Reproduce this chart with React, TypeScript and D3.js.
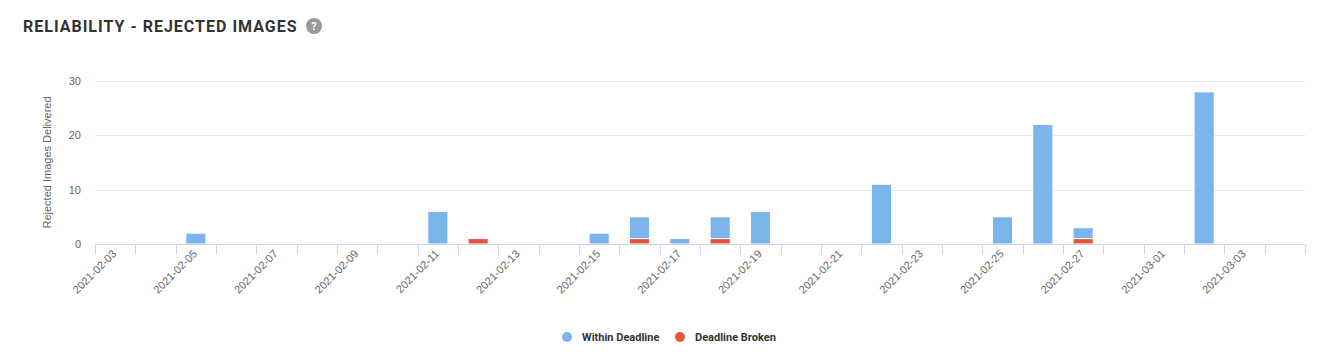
import React, { useRef, useEffect } from "react";
import * as d3 from "d3";

const dates = [
  "2021-02-03", "2021-02-04", "2021-02-05", "2021-02-06", "2021-02-07",
  "2021-02-08", "2021-02-09", "2021-02-10", "2021-02-11", "2021-02-12",
  "2021-02-13", "2021-02-14", "2021-02-15", "2021-02-16", "2021-02-17",
  "2021-02-18", "2021-02-19", "2021-02-20", "2021-02-21", "2021-02-22",
  "2021-02-23", "2021-02-24", "2021-02-25", "2021-02-26", "2021-02-27",
  "2021-02-28", "2021-03-01", "2021-03-02", "2021-03-03", "2021-03-04",
];
const withinDeadline = [
  0, 0, 2, 0, 0, 0, 0, 0, 6, 0,
  0, 0, 2, 4, 1, 4, 6, 0, 0, 11,
  0, 0, 5, 22, 2, 0, 0, 28, 0, 0,
];
const deadlineBroken = [
  0, 0, 0, 0, 0, 0, 0, 0, 0, 1,
  0, 0, 0, 1, 0, 1, 0, 0, 0, 0,
  0, 0, 0, 0, 1, 0, 0, 0, 0, 0,
];
const yTicks = [0, 10, 20, 30];
const seriesNames = ["Within Deadline", "Deadline Broken"];
const seriesColors = ["#7cb5ec", "#e4553b"];

export default function App() {
  const ref = useRef<SVGSVGElement | null>(null);

  useEffect(() => {
    const width = 1330;
    const height = 362;
    const margin = { top: 81, right: 25, bottom: 118, left: 95 };

    const svg = d3.select(ref.current);
    svg.selectAll("*").remove();
    svg.attr("width", width).attr("height", height);

    // title
    svg
      .append("text")
      .attr("x", 23)
      .attr("y", 32)
      .attr("font-family", "Roboto, sans-serif")
      .attr("font-weight", 700)
      .attr("font-size", 16)
      .attr("letter-spacing", 1)
      .attr("fill", "#333")
      .text("RELIABILITY - REJECTED IMAGES");

    svg.append("circle").attr("cx", 314).attr("cy", 26).attr("r", 8).attr("fill", "#999");
    svg
      .append("text")
      .attr("x", 314)
      .attr("y", 30)
      .attr("text-anchor", "middle")
      .attr("font-family", "Roboto, sans-serif")
      .attr("font-weight", 700)
      .attr("font-size", 11)
      .attr("fill", "#fff")
      .text("?");

    const x = d3
      .scaleBand()
      .domain(dates)
      .range([margin.left, width - margin.right])
      .padding(0);
    const step = x.step();

    const y = d3
      .scaleLinear()
      .domain([0, 30])
      .range([height - margin.bottom, margin.top]);

    const font = "'Liberation Sans', Arial, sans-serif";

    // grid + y labels
    const yg = svg.append("g");
    yg.selectAll("line")
      .data(yTicks.filter((t) => t > 0))
      .join("line")
      .attr("x1", margin.left)
      .attr("x2", width - margin.right)
      .attr("y1", (d) => Math.round(y(d)) + 0.5)
      .attr("y2", (d) => Math.round(y(d)) + 0.5)
      .attr("stroke", "#e6e6e6");
    yg.selectAll("text")
      .data(yTicks)
      .join("text")
      .attr("x", 81)
      .attr("y", (d) => y(d) + 4)
      .attr("text-anchor", "end")
      .attr("font-family", font)
      .attr("font-size", 11)
      .attr("fill", "#666")
      .text((d) => d);

    svg
      .append("text")
      .attr("transform", `translate(51,${(margin.top + height - margin.bottom) / 2}) rotate(-90)`)
      .attr("text-anchor", "middle")
      .attr("font-family", font)
      .attr("font-size", 11)
      .attr("fill", "#666")
      .text("Rejected Images Delivered");

    // bars (stacked)
    const bw = step * 0.5;
    const stacked = dates.map((d, i) => ({ d, w: withinDeadline[i], b: deadlineBroken[i] }));
    const bars = svg.append("g");
    bars
      .selectAll("rect.broken")
      .data(stacked.filter((s) => s.b > 0))
      .join("rect")
      .attr("class", "broken")
      .attr("x", (s) => x(s.d)! + (step - bw) / 2)
      .attr("y", (s) => y(s.b))
      .attr("width", bw)
      .attr("height", (s) => y(0) - y(s.b))
      .attr("fill", seriesColors[1])
      .attr("stroke", "#fff")
      .attr("stroke-width", 1);
    bars
      .selectAll("rect.within")
      .data(stacked.filter((s) => s.w > 0))
      .join("rect")
      .attr("class", "within")
      .attr("x", (s) => x(s.d)! + (step - bw) / 2)
      .attr("y", (s) => y(s.w + s.b))
      .attr("width", bw)
      .attr("height", (s) => y(s.b) - y(s.w + s.b))
      .attr("fill", seriesColors[0])
      .attr("stroke", "#fff")
      .attr("stroke-width", 1);

    // x axis
    const y0 = Math.round(y(0)) + 0.5;
    const xg = svg.append("g");
    xg.append("line")
      .attr("x1", margin.left)
      .attr("x2", width - margin.right)
      .attr("y1", y0)
      .attr("y2", y0)
      .attr("stroke", "#ccd6eb");
    const bounds = dates.map((d) => x(d)!).concat([width - margin.right]);
    xg.selectAll("line.tick")
      .data(bounds)
      .join("line")
      .attr("class", "tick")
      .attr("x1", (d) => Math.round(d) + 0.5)
      .attr("x2", (d) => Math.round(d) + 0.5)
      .attr("y1", y0)
      .attr("y2", y0 + 10)
      .attr("stroke", "#ccd6eb");
    xg.selectAll("text")
      .data(dates.filter((_, i) => i % 2 === 0))
      .join("text")
      .attr("transform", (d) => `translate(${x(d)! + step / 2 + 2},${y0 + 10}) rotate(-45)`)
      .attr("text-anchor", "end")
      .attr("font-family", font)
      .attr("font-size", 11)
      .attr("fill", "#666")
      .text((d) => d);

    // legend
    const legend = svg
      .append("g")
      .attr("font-family", "Roboto, sans-serif")
      .attr("font-size", 11)
      .attr("font-weight", 700);
    const lx = [567, 680];
    seriesNames.forEach((name, i) => {
      legend.append("circle").attr("cx", lx[i]).attr("cy", 337).attr("r", 5).attr("fill", seriesColors[i]);
      legend
        .append("text")
        .attr("x", lx[i] + 15)
        .attr("y", 341)
        .attr("fill", "#333")
        .text(name);
    });
  }, []);

  return (
    <svg
      ref={ref}
      style={{ position: "absolute", left: 0, top: 0, background: "#fff" }}
    ></svg>
  );
}
